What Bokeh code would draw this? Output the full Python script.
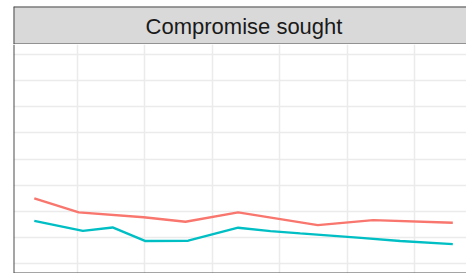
from bokeh.plotting import figure
from bokeh.layouts import column
from bokeh.models import Range1d, FixedTicker, Span
from bokeh.core.properties import value
from bokeh.embed import file_html
from bokeh.resources import INLINE

# ---- data ----
strip_label = "Compromise sought"

red_x = [1991.8, 1995.1, 1999.9, 2003.0, 2006.9, 2012.8, 2016.9, 2022.8]
red_y = [0.249, 0.195, 0.176, 0.159, 0.195, 0.146, 0.165, 0.155]

teal_x = [1991.8, 1995.4, 1997.6, 2000.0, 2003.2, 2006.9, 2009.3, 2011.5, 2016.0, 2018.9, 2022.8]
teal_y = [0.162, 0.124, 0.137, 0.085, 0.086, 0.136, 0.123, 0.114, 0.097, 0.085, 0.073]

x_ticks = [1995, 2000, 2005, 2010, 2015, 2020]
y_ticks = [0.0, 0.1, 0.2, 0.3, 0.4, 0.5, 0.6, 0.7, 0.8]

RED = "#F8766D"
TEAL = "#00BFC4"
BORDER = "#4D4D4D"
GRID = "#EBEBEB"

W = 466
LEFT = 13
X0 = 1990.26
X1 = 1995 + (W - 77) / 13.5

# ---- strip ----
s = figure(width=W, height=44, output_backend="svg", toolbar_location=None,
           x_range=Range1d(0, 1), y_range=Range1d(0, 1),
           min_border_left=LEFT, min_border_right=0, min_border_top=6, min_border_bottom=0)
s.axis.visible = False
s.grid.visible = False
s.background_fill_color = "#D9D9D9"
s.border_fill_color = "white"
s.outline_line_color = None
s.text(x=[0.5 + 8 / (2 * (W - LEFT))], y=[0.47], text=[strip_label], text_align="center",
       text_baseline="middle", text_font=value("Liberation Sans"), text_font_size="22px",
       text_color="#1A1A1A")
for loc, dim in [(1, "width"), (0, "width"), (0, "height")]:
    s.add_layout(Span(location=loc, dimension=dim, line_color=BORDER, line_width=2))

# ---- panel ----
p = figure(width=W, height=229, output_backend="svg", toolbar_location=None,
           x_range=Range1d(X0, X1), y_range=Range1d(-0.04, 0.84),
           min_border_left=LEFT, min_border_right=0, min_border_top=0, min_border_bottom=0)
p.xaxis.ticker = FixedTicker(ticks=x_ticks)
p.yaxis.ticker = FixedTicker(ticks=y_ticks)
p.axis.visible = False
p.xgrid.grid_line_color = GRID
p.ygrid.grid_line_color = GRID
p.xgrid.grid_line_width = 1.5
p.ygrid.grid_line_width = 1.5
p.background_fill_color = "white"
p.outline_line_color = None

p.line(red_x, red_y, line_color=RED, line_width=2.4)
p.line(teal_x, teal_y, line_color=TEAL, line_width=2.4)

p.add_layout(Span(location=-0.04, dimension="width", line_color=BORDER, line_width=2))
p.add_layout(Span(location=X0, dimension="height", line_color=BORDER, line_width=2))

layout = column(s, p, spacing=0)
open("out.html", "w").write(file_html(layout, INLINE))
